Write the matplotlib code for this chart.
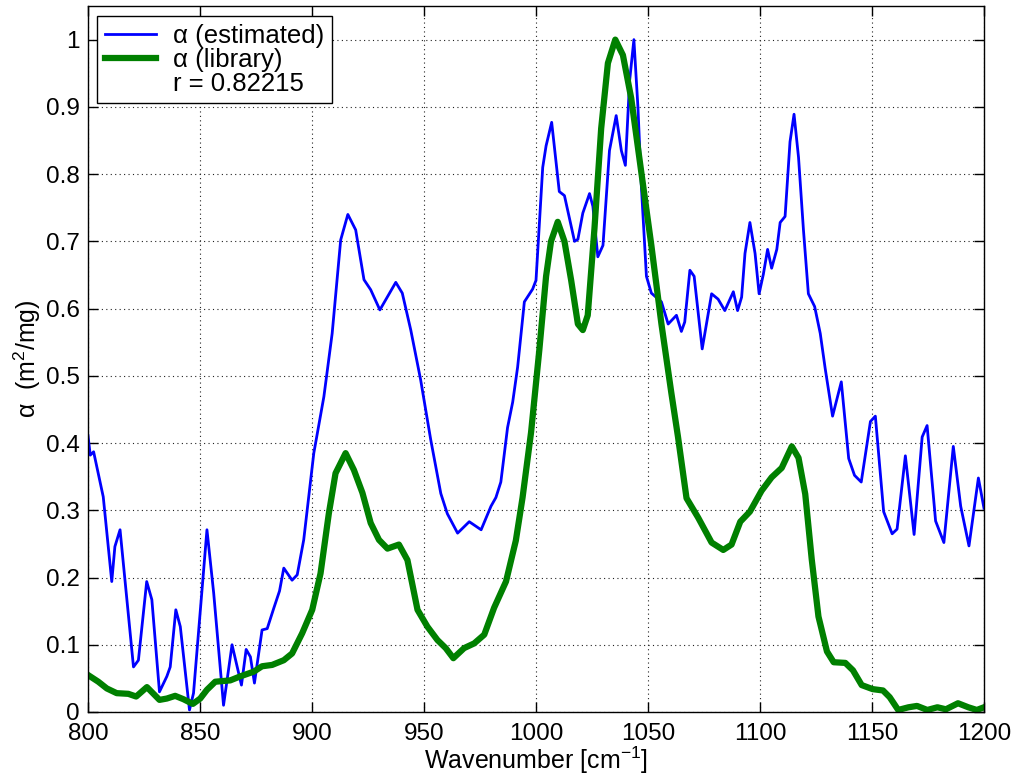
import matplotlib.pyplot as plt
from matplotlib.lines import Line2D
import numpy as np

# ---------------- spectra ----------------
wn_est = [800, 801, 802.5, 806.8, 810.6, 812, 814.3, 820.3, 822.5, 826.2,
          828.5, 831.9, 835.2, 836.7, 839.2, 841.2, 845.3, 847.1, 853.1, 856.1,
          860.5, 864.3, 868.5, 870.6, 872.5, 874.3, 877.7, 880, 882.9, 885.5,
          887.4, 891.1, 893.4, 896.3, 900.8, 905.3, 909.0, 912.8, 916.0, 919.5,
          923.2, 926.2, 930.3, 937.4, 940.3, 944.1, 948.5, 953.0, 957.5, 960.4,
          965.0, 970.2, 975.5, 979.9, 982.1, 984.3, 987.3, 989.6, 991.8, 994.8,
          998.5, 1000, 1003, 1004.5, 1007, 1010.4, 1012.7, 1017.2, 1018.7, 1020.9,
          1023.9, 1025.4, 1027.6, 1029.9, 1032.8, 1035.8, 1038.1, 1039.9, 1041.8, 1043.7,
          1045.5, 1047, 1049.3, 1051.5, 1056, 1059, 1062.7, 1064.9, 1066.4, 1068.7,
          1070.6, 1074.2, 1078.4, 1081.3, 1084.3, 1088.1, 1090, 1091.8, 1093.3, 1095.5,
          1097.8, 1099.6, 1101.5, 1103.4, 1105.2, 1107.5, 1109, 1111.2, 1113.4, 1115.2,
          1117.2, 1119.4, 1121.6, 1124.4, 1126.9, 1129.1, 1132.4, 1136.3, 1139.6, 1142.2,
          1145.2, 1149.3, 1151.5, 1155.2, 1159.0, 1161.2, 1164.9, 1168.8, 1172.4, 1174.6,
          1178.4, 1182.1, 1186.3, 1189.6, 1193.3, 1197.5, 1200]
alpha_est = [0.411, 0.382, 0.387, 0.32, 0.194, 0.246, 0.271, 0.067, 0.077, 0.194,
             0.167, 0.030, 0.053, 0.067, 0.152, 0.127, 0.003, 0.028, 0.271, 0.177,
             0.010, 0.100, 0.040, 0.093, 0.082, 0.043, 0.122, 0.124, 0.154, 0.180,
             0.214, 0.196, 0.204, 0.256, 0.385, 0.469, 0.563, 0.702, 0.740, 0.717,
             0.643, 0.628, 0.598, 0.639, 0.623, 0.568, 0.494, 0.405, 0.325, 0.295,
             0.266, 0.283, 0.271, 0.306, 0.319, 0.342, 0.423, 0.461, 0.513, 0.610,
             0.629, 0.642, 0.810, 0.842, 0.877, 0.774, 0.768, 0.700, 0.703, 0.742,
             0.771, 0.752, 0.677, 0.694, 0.835, 0.887, 0.835, 0.813, 0.939, 1.0,
             0.9, 0.784, 0.648, 0.623, 0.610, 0.577, 0.590, 0.566, 0.580, 0.657,
             0.648, 0.540, 0.622, 0.614, 0.597, 0.625, 0.597, 0.617, 0.682, 0.728,
             0.682, 0.622, 0.651, 0.688, 0.660, 0.688, 0.728, 0.737, 0.848, 0.889,
             0.825, 0.717, 0.622, 0.603, 0.563, 0.511, 0.440, 0.491, 0.377, 0.352,
             0.342, 0.432, 0.440, 0.298, 0.265, 0.272, 0.381, 0.264, 0.409, 0.426,
             0.284, 0.252, 0.395, 0.306, 0.247, 0.348, 0.303]

wn_lib = [800, 804.6, 808.4, 812.8, 818, 821.5, 826.3, 831.9, 835.2, 838.9,
          842.6, 846.8, 850.1, 853.1, 856.8, 863.5, 868, 874, 877.7, 882.2,
          887.4, 891.1, 895.6, 900.1, 903.8, 907.5, 910.5, 915.0, 918.7, 922.5,
          926.2, 929.9, 933.7, 938.8, 942.6, 947.1, 951.5, 956, 959.7, 963.1,
          967.9, 972.4, 976.9, 981.3, 986.6, 991.0, 994.0, 997.8, 1001.5, 1004.5,
          1006.7, 1009.7, 1012.7, 1015.7, 1018.7, 1020.9, 1023.1, 1026.1, 1029.1, 1032.1,
          1035.4, 1038.8, 1042.5, 1047.0, 1051.5, 1056.0, 1060.4, 1063.4, 1067.2, 1072.4,
          1078.4, 1083.6, 1087.3, 1091.2, 1095.5, 1100.7, 1105.2, 1109.7, 1114.2, 1117.2,
          1120.2, 1123.1, 1126.1, 1129.9, 1132.9, 1138.1, 1141.5, 1145.4, 1150.3, 1154.9,
          1157.9, 1161.7, 1166.3, 1170.1, 1174.7, 1179.2, 1183, 1188.4, 1193, 1196.8,
          1200]
alpha_lib = [0.055, 0.045, 0.035, 0.028, 0.027, 0.023, 0.037, 0.018, 0.020, 0.024,
             0.019, 0.012, 0.020, 0.033, 0.045, 0.047, 0.053, 0.060, 0.068, 0.070,
             0.077, 0.087, 0.117, 0.152, 0.206, 0.295, 0.355, 0.385, 0.360, 0.326,
             0.281, 0.256, 0.243, 0.249, 0.226, 0.152, 0.127, 0.107, 0.095, 0.080,
             0.095, 0.102, 0.115, 0.155, 0.194, 0.255, 0.319, 0.416, 0.539, 0.648,
             0.700, 0.729, 0.700, 0.642, 0.577, 0.568, 0.590, 0.719, 0.868, 0.965,
             1.0, 0.977, 0.913, 0.803, 0.694, 0.577, 0.475, 0.409, 0.318, 0.289,
             0.252, 0.241, 0.249, 0.283, 0.298, 0.329, 0.349, 0.363, 0.395, 0.378,
             0.324, 0.227, 0.142, 0.090, 0.074, 0.073, 0.062, 0.040, 0.034, 0.032,
             0.022, 0.003, 0.007, 0.009, 0.003, 0.007, 0.004, 0.013, 0.007, 0.003,
             0.007]

r_value = 0.82215
x_ticks = np.arange(800, 1201, 50)
y_ticks = np.arange(0, 1.01, 0.1)
y_ticklabels = ['0', '0.1', '0.2', '0.3', '0.4', '0.5', '0.6', '0.7', '0.8', '0.9', '1']

# ---------------- style ----------------
plt.rcParams['font.family'] = ['Liberation Sans', 'DejaVu Sans']
plt.rcParams['mathtext.fontset'] = 'custom'
plt.rcParams['mathtext.rm'] = 'Liberation Sans'
plt.rcParams['mathtext.it'] = 'Liberation Sans'
plt.rcParams['mathtext.default'] = 'rm'

fig = plt.figure(figsize=(10.14, 7.8), dpi=100)
ax = fig.add_axes([0.0868, 0.0872, 0.8836, 0.9051])

ax.plot(wn_est, alpha_est, color='#0000ff', linewidth=2.0, label='α (estimated)')
ax.plot(wn_lib, alpha_lib, color='#008000', linewidth=4.5, label='α (library)')

ax.set_xlim(800, 1200)
ax.set_ylim(0, 1.05)
ax.set_xticks(x_ticks)
ax.set_yticks(y_ticks)
ax.set_yticklabels(y_ticklabels)
ax.tick_params(direction='in', top=True, right=True, length=7, width=1,
               labelsize=17.5, pad=6)
ax.tick_params(axis='x', pad=8)
ax.grid(True, color='#222222', linestyle=(0, (1, 3)), linewidth=0.8)
for sp in ax.spines.values():
    sp.set_linewidth(1.0)
    sp.set_color('black')

ax.set_xlabel('Wavenumber [cm$^{-1}$]', fontsize=18, labelpad=0)
ax.set_ylabel('α  (m$^2$/mg)', fontsize=18, labelpad=2)

# correlation shown as an extra legend row without a line
handles, labels = ax.get_legend_handles_labels()
handles.append(Line2D([], [], color='none'))
labels.append(f'r = {r_value:.5f}')
leg = ax.legend(handles, labels, loc='upper left', bbox_to_anchor=(0.010, 0.986),
                borderaxespad=0, fontsize=18.5, handlelength=2.0, handletextpad=0.65,
                labelspacing=0.0, fancybox=False, framealpha=1, edgecolor='black',
                borderpad=0.3)
leg.get_frame().set_linewidth(1.0)

fig.savefig('out.png', dpi=100, facecolor='white')
